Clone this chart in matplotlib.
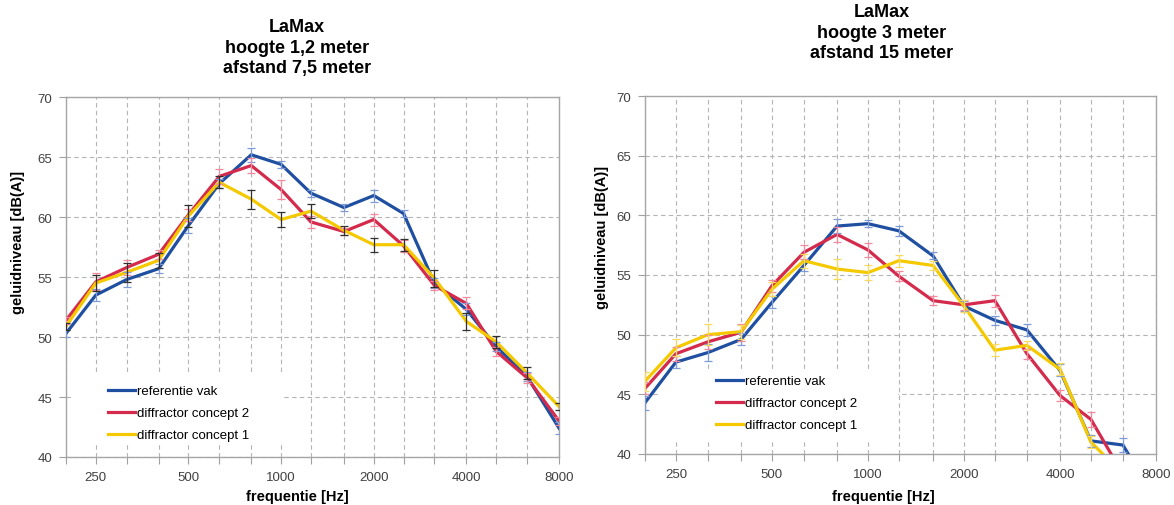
import matplotlib.pyplot as plt
from matplotlib.ticker import FixedLocator, FixedFormatter, NullLocator

plt.rcParams['font.family'] = ['Liberation Sans', 'DejaVu Sans']

# tertsbanden
freq = [200, 250, 315, 400, 500, 630, 800, 1000, 1250, 1600, 2000, 2500, 3150, 4000, 5000, 6300, 8000]
tick_freq = [250, 500, 1000, 2000, 4000, 8000]
labels = ['referentie vak', 'diffractor concept 2', 'diffractor concept 1']

#***************** hoogte 1,2 meter, afstand 7,5 meter *****************
ref_1 = [50.3, 53.5, 54.8, 55.7, 59.3, 62.8, 65.2, 64.4, 62.0, 60.8, 61.8, 60.3, 54.5, 52.3, 49.2, 46.7, 42.4]
dc2_1 = [51.4, 54.6, 55.8, 56.9, 60.2, 63.4, 64.3, 62.3, 59.6, 58.8, 59.8, 57.6, 54.3, 52.8, 48.8, 46.6, 43.0]
dc1_1 = [50.9, 54.5, 55.4, 56.4, 60.1, 62.9, 61.5, 59.8, 60.5, 58.9, 57.7, 57.7, 54.9, 51.3, 49.6, 47.0, 44.2]
ref_1_err = [0.3, 0.5, 0.6, 0.4, 0.6, 0.4, 0.6, 0.3, 0.3, 0.3, 0.5, 0.3, 0.4, 0.5, 0.4, 0.4, 0.5]
dc2_1_err = [0.3, 0.7, 0.6, 0.4, 0.5, 0.6, 0.6, 0.8, 0.5, 0.3, 0.5, 0.5, 0.4, 0.5, 0.4, 0.4, 0.3]
dc1_1_err = [0.3, 0.7, 0.8, 0.6, 0.9, 0.5, 0.8, 0.6, 0.6, 0.4, 0.6, 0.5, 0.7, 0.7, 0.5, 0.5, 0.3]

#***************** hoogte 3 meter, afstand 15 meter *****************
ref_2 = [44.3, 47.7, 48.5, 49.6, 52.7, 55.8, 59.1, 59.3, 58.7, 56.6, 52.4, 51.2, 50.4, 47.0, 41.1, 40.75, 36.1]
dc2_2 = [45.5, 48.4, 49.4, 50.2, 54.1, 56.9, 58.4, 57.1, 54.9, 52.85, 52.5, 52.85, 48.4, 44.9, 42.9, 38.3, 34.0]
dc1_2 = [46.1, 48.9, 50.0, 50.25, 53.8, 56.2, 55.5, 55.2, 56.2, 55.8, 52.4, 48.7, 49.1, 47.1, 41.0, 38.3, 35.0]
ref_2_err = [0.6, 0.5, 0.7, 0.5, 0.5, 0.5, 0.6, 0.3, 0.4, 0.3, 0.4, 0.4, 0.5, 0.5, 0.5, 0.6, 0.5]
dc2_2_err = [0.5, 0.6, 0.6, 0.7, 0.5, 0.6, 0.6, 0.6, 0.4, 0.4, 0.4, 0.5, 0.4, 0.5, 0.6, 0.5, 0.5]
dc1_2_err = [0.8, 0.7, 0.9, 0.6, 0.6, 0.6, 0.8, 0.6, 0.5, 0.4, 0.5, 0.5, 0.4, 0.5, 0.5, 0.5, 0.5]

blue = '#1f4fa0'
red = '#d42a4c'
yellow = '#f5c900'

fig = plt.figure(figsize=(11.74, 5.06), dpi=100)
ax1 = fig.add_axes([0.0562, 0.0949, 0.42, 0.711])
ax2 = fig.add_axes([0.5494, 0.1008, 0.4353, 0.7075])


def draw(ax, series, errs, ecolors, box, leg_anchor):
    for y, e, c, ec, lab in zip(series, errs, [blue, red, yellow], ecolors, labels):
        ax.plot(freq, y, color=c, lw=2.3, label=lab, zorder=3, solid_joinstyle='miter')
        ax.errorbar(freq, y, yerr=e, fmt='none', ecolor=ec, elinewidth=0.9,
                    capsize=3, capthick=0.9, zorder=4)
    ax.set_xscale('log')
    ax.set_xlim(200, 8000)
    ax.set_ylim(40, 70)
    ax.xaxis.set_major_locator(FixedLocator(freq))
    ax.xaxis.set_major_formatter(FixedFormatter([str(f) if f in tick_freq else '' for f in freq]))
    ax.xaxis.set_minor_locator(NullLocator())
    ax.set_yticks(range(40, 71, 5))
    ax.grid(True, linestyle=(0, (4, 3)), color='#b4b4b4', linewidth=0.8)
    ax.tick_params(direction='out', length=5, width=0.8, color='#a0a0a0',
                   labelcolor='#404040', labelsize=9.5, pad=5)
    for s in ax.spines.values():
        s.set_color('#a6a6a6')
        s.set_linewidth(1)
    # witte achtergrond van de legenda
    ax.add_patch(plt.Rectangle((box[0], box[1]), box[2], box[3], transform=ax.transAxes,
                               facecolor='white', edgecolor='none', zorder=1.8))
    ax.legend(loc='upper left', bbox_to_anchor=leg_anchor, frameon=False, fontsize=9.5,
              handlelength=2.05, handletextpad=0.15, labelspacing=0.74,
              borderpad=0, borderaxespad=0)


draw(ax1, [ref_1, dc2_1, dc1_1], [ref_1_err, dc2_1_err, dc1_1_err],
     ['#7f9bd6', '#f08a9c', '#303030'], (0.016, 0.036, 0.424, 0.195), (0.0852, 0.1995))
draw(ax2, [ref_2, dc2_2, dc1_2], [ref_2_err, dc2_2_err, dc1_2_err],
     ['#7f9bd6', '#f08a9c', '#f7da60'], (0.03, 0.036, 0.465, 0.193), (0.139, 0.22))

fig.text(297/1174, 1-19/506, 'LaMax\nhoogte 1,2 meter\nafstand 7,5 meter', ha='center', va='top',
         ma='center', fontsize=13, fontweight='bold', linespacing=1.28)
fig.text(882/1174, 1-4/506, 'LaMax\nhoogte 3 meter\nafstand 15 meter', ha='center', va='top',
         ma='center', fontsize=13, fontweight='bold', linespacing=1.28)

fig.text(297/1174, 1-497/506, 'frequentie [Hz]', ha='center', va='center', fontsize=10.5, fontweight='bold')
fig.text(883/1174, 1-497/506, 'frequentie [Hz]', ha='center', va='center', fontsize=10.5, fontweight='bold')
fig.text(18/1174, 1-242/506, 'geluidniveau [dB(A)]', ha='center', va='center', rotation=90,
         fontsize=10.5, fontweight='bold')
fig.text(602/1174, 1-237/506, 'geluidniveau [dB(A)]', ha='center', va='center', rotation=90,
         fontsize=10.5, fontweight='bold')

fig.savefig('out.png', dpi=100)
